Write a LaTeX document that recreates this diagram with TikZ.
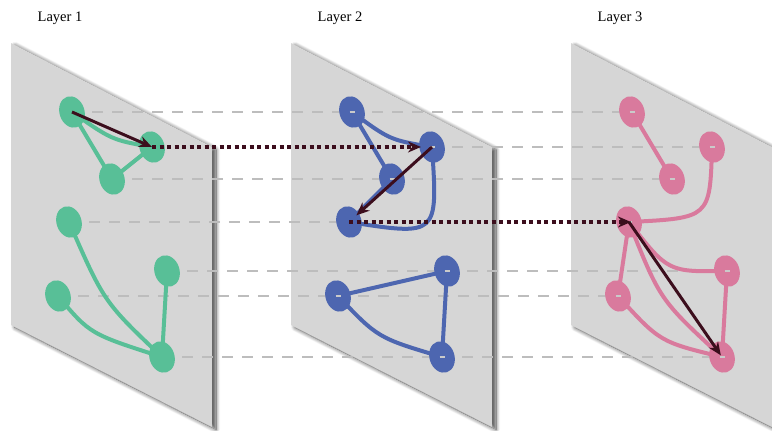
\documentclass[tikz,border=0pt]{standalone}
\usepackage{fontspec}
\setmainfont{Liberation Serif}
\usetikzlibrary{arrows.meta,shapes.geometric,shadows.blur}
\definecolor{plane}{HTML}{D6D6D6}
\definecolor{gnode}{HTML}{58BF97}
\definecolor{bnode}{HTML}{4D66B0}
\definecolor{pnode}{HTML}{D97A9D}
\definecolor{jump}{HTML}{3C0E1D}
\definecolor{guide}{HTML}{BDBDBD}
\begin{document}
\begin{tikzpicture}[x=1pt,y=-1pt,
  layerplane/.style={fill=plane, blur shadow={shadow xshift=4pt, shadow yshift=-2.5pt, shadow blur radius=4pt, shadow blur steps=12, shadow opacity=70}},
  vtx/.style={ellipse, inner sep=0pt, minimum width=25pt, minimum height=32pt, rotate=18, fill=#1},
  link/.style={line width=4pt, draw=#1},
  guideline/.style={draw=guide, line width=1.4pt, dash pattern=on 11pt off 9pt},
  hop/.style={draw=jump, line width=3pt, -{Stealth[length=13pt,width=11pt]}},
  crosshop/.style={draw=jump, line width=3.5pt, dash pattern=on 4pt off 3.5pt, -{Stealth[length=13pt,width=11pt]}},
  title/.style={font=\fontsize{14.5}{16}\selectfont}
]
\useasboundingbox (0,0) rectangle (772,431);
\clip (0,0) rectangle (772,431);

% layer planes
\foreach \dx in {0,280,560}
  \path[layerplane] (11+\dx,43) -- (212+\dx,147) -- (212+\dx,427) -- (11+\dx,325) -- cycle;

% titles
\node[title] (t1) at (60,18) {Layer 1};
\node[title] (t2) at (340,18) {Layer 2};
\node[title] (t3) at (620,18) {Layer 3};

% vertex positions
\foreach \l/\dx in {1/0,2/280,3/560}{
  \coordinate (a\l) at (72+\dx,112);
  \coordinate (b\l) at (152+\dx,147);
  \coordinate (c\l) at (112+\dx,179);
  \coordinate (d\l) at (69+\dx,222);
  \coordinate (e\l) at (167+\dx,271);
  \coordinate (f\l) at (58+\dx,296);
  \coordinate (g\l) at (162+\dx,357);
}

% horizontal guides between corresponding vertices
\draw[guideline] (a1) -- (a3);
\draw[guideline] (b2) -- (b3);
\draw[guideline] (c1) -- (c3);
\draw[guideline] (d1) -- (d2);
\draw[guideline] (e1) -- (e3);
\draw[guideline] (f1) -- (f3);
\draw[guideline] (g1) -- (g3);

% layer 1 edges
\draw[link=gnode] (a1) .. controls (112,140) .. (b1);
\draw[link=gnode] (a1) -- (c1);
\draw[link=gnode] (c1) -- (b1);
\draw[link=gnode] (d1) .. controls (104,302) .. (g1);
\draw[link=gnode] (f1) .. controls (90,334) .. (g1);
\draw[link=gnode] (e1) -- (g1);

% layer 2 edges
\draw[link=bnode] (a2) .. controls (390,140) .. (b2);
\draw[link=bnode] (a2) -- (c2);
\draw[link=bnode] (c2) -- (d2);
\draw[link=bnode] (b2) .. controls (438,236) .. (d2);
\draw[link=bnode] (f2) -- (e2);
\draw[link=bnode] (e2) -- (g2);
\draw[link=bnode] (f2) .. controls (378,338) .. (g2);

% layer 3 edges
\draw[link=pnode] (a3) -- (c3);
\draw[link=pnode] (b3) .. controls (710,218) .. (d3);
\draw[link=pnode] (d3) .. controls (668,272) .. (e3);
\draw[link=pnode] (d3) -- (f3);
\draw[link=pnode] (f3) .. controls (660,342) .. (g3);
\draw[link=pnode] (e3) -- (g3);
\draw[link=pnode] (d3) .. controls (660,300) .. (g3);

% vertices
\foreach \v in {a,b,c,d,e,f,g}{
  \node[vtx=gnode] (\v1n) at (\v1) {};
  \node[vtx=bnode] (\v2n) at (\v2) {};
  \node[vtx=pnode] (\v3n) at (\v3) {};
}
\foreach \v in {a2n,b2n,c2n,e2n,f2n,g2n,a3n,b3n,c3n,d3n,e3n,f3n,g3n}
  \draw[draw=guide!80, line width=1.2pt] ([xshift=-2.5pt]\v.center) -- ([xshift=2.5pt]\v.center);

% walk across and within the layers
\draw[hop] (a1n.center) -- (b1n.center);
\draw[crosshop, shorten >=11pt] (b1n.center) -- (b2n.center);
\draw[hop, shorten >=10pt] (b2n.center) -- (d2n.center);
\draw[crosshop, shorten >=-2pt] (d2n.center) -- (d3n.center);
\draw[hop, shorten >=2pt] (d3n.center) -- (g3n.center);
\end{tikzpicture}
\end{document}
